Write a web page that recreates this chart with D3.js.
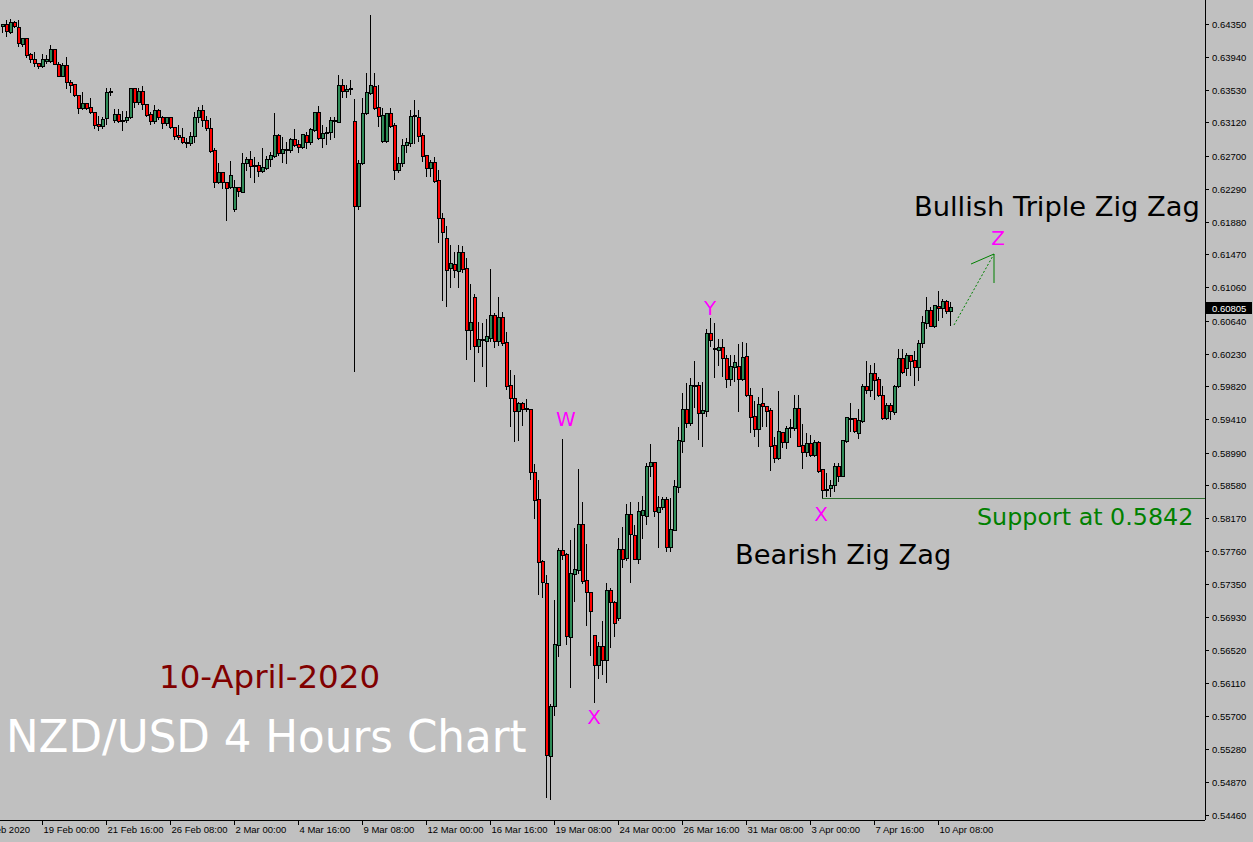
<!DOCTYPE html>
<html><head><meta charset="utf-8">
<script src="https://cdn.jsdelivr.net/npm/d3@7"></script>
<style>html,body{margin:0;padding:0;background:#c0c0c0;overflow:hidden}</style>
</head><body>
<svg id="c" width="1253" height="842"></svg>
<script>
// [open, high, low, close], 4-hour NZD/USD bars
const candles = [
[.64313,.6435,.64238,.64338],[.64338,.644,.64188,.6425],[.64238,.64413,.64225,.64375],[.64363,.64388,.643,.64313],
[.643,.644,.64063,.641],[.64088,.64175,.64063,.64163],[.64163,.64175,.63925,.6395],[.63963,.63988,.63863,.639],
[.639,.64,.63813,.6385],[.6385,.63863,.63788,.63813],[.63813,.63975,.638,.639],[.63875,.63963,.6385,.639],
[.63875,.64088,.63863,.64025],[.64025,.64025,.63838,.63838],[.63838,.63875,.63688,.63688],[.63688,.63863,.63688,.63825],
[.63825,.63938,.63538,.63613],[.63613,.6365,.63488,.63575],[.63588,.636,.63438,.6345],[.6345,.63463,.63225,.63288],
[.63288,.635,.63275,.6335],[.6335,.63363,.63275,.63288],[.633,.63425,.63225,.63238],[.63238,.6325,.63038,.63075],
[.63088,.632,.63013,.63063],[.63063,.63188,.63038,.6315],[.63163,.6355,.63088,.63488],[.635,.6355,.6345,.63488],
[.63138,.63288,.63113,.63213],[.63213,.63288,.63113,.63125],[.63138,.63263,.63013,.63125],[.63138,.63263,.63113,.63175],
[.63175,.6355,.63163,.63538],[.63538,.63538,.633,.63363],[.63363,.6355,.63338,.635],[.635,.63575,.63275,.63338],
[.63338,.63338,.63188,.632],[.63213,.6325,.63088,.63125],[.63125,.63338,.631,.63263],[.63263,.63288,.6315,.63175],
[.63175,.632,.63038,.631],[.631,.63188,.63075,.63175],[.63175,.63188,.63038,.6305],[.6305,.63063,.629,.62938],
[.6295,.63088,.629,.62925],[.62925,.6305,.6285,.62863],[.62863,.62925,.628,.6285],[.6285,.63,.62825,.62938],
[.62938,.6325,.62863,.63175],[.63175,.63313,.63113,.63263],[.63263,.63338,.63063,.63138],[.63138,.632,.63013,.63038],
[.63038,.63175,.62738,.6275],[.62763,.628,.623,.62363],[.62363,.62613,.6235,.62488],[.62488,.62488,.62288,.62363],
[.62363,.62363,.61888,.62288],[.623,.62638,.62288,.6245],[.62025,.624,.62,.623],[.623,.623,.62188,.6225],
[.62238,.62738,.62238,.626],[.626,.62688,.62513,.6265],[.6265,.62763,.62425,.62563],[.62575,.62688,.62363,.62575],
[.62575,.62625,.62438,.625],[.625,.628,.62488,.6255],[.62538,.627,.62525,.6265],[.6265,.6275,.62563,.627],
[.62688,.63238,.62675,.6295],[.6295,.62975,.627,.62725],[.62725,.62938,.62613,.62775],[.62775,.62875,.626,.62763],
[.62763,.62925,.62738,.629],[.629,.63038,.62813,.62825],[.62838,.629,.62738,.628],[.628,.62975,.62788,.62963],
[.6295,.63,.62788,.62863],[.62863,.6305,.62838,.63025],[.63013,.63238,.63,.63238],[.63238,.63325,.629,.62913],
[.62913,.63088,.628,.62975],[.62975,.63063,.62838,.62988],[.62988,.63188,.629,.63138],[.63125,.63188,.62925,.63138],
[.63113,.63713,.63113,.63575],[.63575,.63663,.63425,.635],[.635,.63588,.63425,.63525],[.63525,.6365,.63463,.63538],
[.63125,.63413,.6,.62063],[.62063,.6265,.62025,.626],[.626,.63425,.62588,.63225],[.63225,.63738,.63213,.63488],
[.63475,.64463,.63463,.63575],[.63563,.63738,.63275,.63288],[.633,.63588,.63063,.63188],[.62875,.633,.62863,.632],
[.62875,.63225,.62863,.63225],[.63225,.633,.6305,.63063],[.63075,.63113,.624,.62513],[.62513,.62688,.62488,.626],
[.626,.62913,.62563,.62825],[.62825,.62925,.62738,.62863],[.6285,.63275,.62813,.63188],[.63188,.634,.6285,.632],
[.63175,.63275,.62875,.62938],[.6295,.62988,.62625,.62688],[.627,.62713,.62438,.62538],[.62538,.6265,.62438,.62613],
[.62613,.62688,.62363,.62375],[.62388,.62525,.61613,.61913],[.61913,.61988,.60888,.61738],[.61663,.61825,.60813,.61263],
[.61288,.61588,.6105,.6135],[.61338,.615,.61175,.61263],[.6125,.61588,.6105,.61488],[.61488,.61575,.61238,.61275],
[.61288,.61425,.6015,.60513],[.60513,.611,.60275,.60613],[.60925,.60975,.59875,.60313],[.60313,.60625,.60238,.604],
[.604,.60613,.60063,.60388],[.60375,.60663,.59813,.60438],[.60413,.61288,.60375,.607],[.607,.60738,.603,.60375],
[.60375,.60938,.60325,.60675],[.60675,.6075,.60325,.6035],[.60363,.605,.59775,.59813],[.59825,.60025,.59313,.59663],
[.59663,.59963,.59125,.595],[.595,.59625,.59138,.596],[.596,.59625,.59325,.59525],[.59538,.59663,.595,.59525],
[.59525,.59538,.5865,.58738],[.58738,.5885,.58163,.58388],[.584,.5865,.57213,.57613],[.57625,.5765,.57175,.57363],
[.5735,.57463,.54675,.552],[.55188,.5585,.5465,.55813],[.55813,.5715,.557,.56588],[.56575,.578,.56438,.57763],
[.57763,.59163,.5765,.577],[.57713,.57738,.56588,.56688],[.56675,.579,.5605,.57475],[.57463,.5805,.57125,.57525],
[.57513,.58788,.57475,.58088],[.58088,.58375,.5735,.57375],[.57388,.5785,.56825,.57238],[.57238,.57238,.5645,.57],
[.567,.56713,.55863,.56325],[.56325,.56625,.56163,.56563],[.56563,.56888,.56213,.56388],[.56388,.57363,.56113,.57263],
[.57263,.573,.5655,.57113],[.57113,.57138,.56688,.5685],[.56913,.57925,.56888,.57775],[.57775,.58063,.5755,.5765],
[.57663,.5835,.57638,.58213],[.58213,.58375,.57363,.57963],[.5795,.58088,.5765,.5765],[.5765,.58375,.576,.5825],
[.582,.5845,.57913,.58263],[.58188,.58863,.58088,.58813],[.58813,.591,.58688,.58863],[.58863,.58863,.58188,.5825],
[.58238,.5845,.578,.583],[.583,.58438,.58275,.584],[.584,.58438,.5775,.578],[.578,.58425,.5775,.58025],
[.58013,.5865,.58013,.58563],[.5855,.59313,.58488,.59138],[.59125,.59738,.58988,.59525],[.59525,.59863,.593,.5935],
[.5935,.59925,.59325,.59825],[.59813,.60138,.5955,.59825],[.59825,.59875,.5915,.59475],[.59475,.59875,.59063,.59513],
[.595,.60538,.59438,.60475],[.60475,.60675,.60313,.60388],[.60288,.60613,.59925,.60275],[.60263,.60413,.60075,.603],
[.603,.60413,.59938,.60163],[.60163,.60213,.598,.599],[.599,.60213,.59825,.60063],[.6005,.60213,.59875,.60113],
[.60063,.6035,.595,.599],[.599,.60375,.59888,.60175],[.60188,.60363,.59688,.597],[.597,.598,.59238,.59425],
[.59438,.59638,.59188,.59275],[.59275,.59688,.59063,.59588],[.596,.598,.59313,.59563],[.59563,.59575,.59313,.595],
[.59513,.5955,.58763,.59063],[.59075,.59188,.58863,.58913],[.58913,.59763,.589,.5925],[.59238,.5925,.5905,.59113],
[.59113,.59325,.59038,.59288],[.59288,.59413,.59175,.593],[.59288,.59713,.59263,.59538],[.59538,.59713,.59063,.59063],
[.59075,.5935,.58788,.58988],[.58988,.59238,.58938,.591],[.591,.59213,.58938,.5895],[.5895,.5915,.58938,.59113],
[.59113,.59138,.58738,.5875],[.58775,.58775,.58413,.58513],[.58513,.58738,.58438,.58525],[.58538,.5865,.58438,.58575],
[.58575,.58863,.585,.58813],[.58813,.58863,.58625,.58688],[.58688,.5915,.58688,.59138],[.59125,.59438,.59113,.59425],
[.594,.59613,.5925,.59413],[.59413,.59425,.59238,.5925],[.59225,.59538,.59163,.59388],[.59375,.5985,.59363,.59813],
[.59813,.60138,.59725,.59763],[.59763,.60088,.59688,.59975],[.59975,.60113,.5965,.59888],[.599,.59938,.59688,.597],
[.597,.59825,.594,.59413],[.59413,.59613,.594,.59575],[.59575,.59613,.594,.595],[.59488,.59838,.59463,.59813],
[.59813,.60288,.598,.60163],[.60163,.60288,.59975,.59988],[.60038,.60238,.5995,.602],[.602,.60213,.5995,.60125],
[.60138,.60263,.59825,.6005],[.6005,.604,.59888,.6035],[.6035,.607,.603,.60613],[.606,.60938,.60538,.60763],
[.60763,.60813,.60563,.60563],[.60563,.60838,.6055,.60825],[.60813,.61013,.60638,.60788],[.60788,.60913,.60675,.60875],
[.60875,.609,.60725,.6075],[.6075,.60875,.60575,.60805]
];
const priceTicks = [0.64350,0.63940,0.63530,0.63120,0.62700,0.62290,0.61880,0.61470,0.61060,0.60640,0.60230,0.59820,
  0.59410,0.58990,0.58580,0.58170,0.57760,0.57350,0.56930,0.56520,0.56110,0.55700,0.55280,0.54870,0.54460];
const dateLabels = ["19 Feb 00:00","21 Feb 16:00","26 Feb 08:00","2 Mar 00:00","4 Mar 16:00","9 Mar 08:00","12 Mar 00:00",
  "16 Mar 16:00","19 Mar 08:00","24 Mar 00:00","26 Mar 16:00","31 Mar 08:00","3 Apr 00:00","7 Apr 16:00","10 Apr 08:00"];
const dateIndex = [10,26,42,58,74,90,106,122,138,154,170,186,202,218,234];
const firstLabel = "17 Feb 2020";
const lastPrice = 0.60805;
const supportLevel = 0.5842;
const supportStart = 205;

const svg = d3.select("#c");
const W = 1205, H = 820;
const x = d3.scaleLinear().domain([0, candles.length - 1]).range([2.33, 2.33 + 4 * (candles.length - 1)]);
const y = d3.scaleLinear().domain([0.5446, 0.6435]).range([815, 24]);
const font = "'DejaVu Sans', Verdana, sans-serif";
const axFont = "'Liberation Sans', Arial, sans-serif";

svg.append("rect").attr("width",1253).attr("height",842).attr("fill","#c0c0c0");

// candles
const g = svg.append("g").attr("shape-rendering","crispEdges");
candles.forEach((d,i)=>{
  const [o,h,l,c] = d; const cx = Math.round(x(i)) + 0.5;
  g.append("line").attr("x1",cx).attr("x2",cx).attr("y1",y(h)).attr("y2",y(l)).attr("stroke","#000").attr("stroke-width",1);
  const top = y(Math.max(o,c)), bot = y(Math.min(o,c));
  g.append("rect").attr("x",cx-1.5).attr("y",top).attr("width",3).attr("height",Math.max(bot-top,1))
   .attr("fill", c>=o ? "#2e8b57" : "#ff0000").attr("stroke","#000").attr("stroke-width",1);
});

// support line
const sy = Math.round(y(supportLevel))+0.5;
svg.append("line").attr("x1",x(supportStart)).attr("x2",W).attr("y1",sy).attr("y2",sy)
  .attr("stroke","#2f6f2f").attr("stroke-width",1);

// axes frame
svg.append("line").attr("x1",W+0.5).attr("x2",W+0.5).attr("y1",0).attr("y2",H).attr("stroke","#000");
svg.append("line").attr("x1",0).attr("x2",W).attr("y1",H+0.5).attr("y2",H+0.5).attr("stroke","#000");

priceTicks.forEach(p=>{
  const yy = Math.round(y(p))+0.5;
  svg.append("line").attr("x1",W).attr("x2",W+4).attr("y1",yy).attr("y2",yy).attr("stroke","#000");
  svg.append("text").attr("x",W+7).attr("y",yy+3.5).attr("font-family",axFont).attr("font-size",9.5)
    .attr("fill","#000").text(p.toFixed(5));
});
// current price box
const ly = Math.round(y(lastPrice));
svg.append("rect").attr("x",W+1).attr("y",ly-6).attr("width",46).attr("height",12).attr("fill","#000");
svg.append("text").attr("x",W+7).attr("y",ly+3.5).attr("font-family",axFont).attr("font-size",9.5)
  .attr("fill","#fff").text(lastPrice.toFixed(5));

// date axis
dateIndex.forEach((idx,k)=>{
  const xx = Math.round(x(idx))+0.5;
  svg.append("line").attr("x1",xx).attr("x2",xx).attr("y1",H).attr("y2",H+5).attr("stroke","#000");
  svg.append("text").attr("x",xx+1).attr("y",H+13).attr("font-family",axFont).attr("font-size",9.5)
    .attr("fill","#000").text(dateLabels[k]);
});
svg.append("text").attr("x",30).attr("y",H+13).attr("text-anchor","end").attr("font-family",axFont)
  .attr("font-size",9.5).attr("fill","#000").text(firstLabel);

// annotations
function txt(t,xx,yy,size,color,anchor){
  svg.append("text").attr("x",xx).attr("y",yy).attr("font-family",font).attr("font-size",size).attr("fill",color)
    .attr("text-anchor",anchor||"start").text(t);
}
txt("Bullish Triple Zig Zag",914,216,27.3,"#000");
txt("Z",998,245,20,"#ff00ff","middle");
txt("Y",710,315,20,"#ff00ff","middle");
txt("W",566,426,20,"#ff00ff","middle");
txt("X",594,724,20,"#ff00ff","middle");
txt("X",821,521,20,"#ff00ff","middle");
txt("Support at 0.5842",977,525,23.8,"#008000");
txt("Bearish Zig Zag",735,564,27.3,"#000");
txt("10-April-2020",159,688,32.5,"#800000");
txt("NZD/USD 4 Hours Chart",6,752,43.6,"#ffffff");

// arrow
svg.append("line").attr("x1",954).attr("y1",325).attr("x2",994).attr("y2",254).attr("stroke","#008000").attr("stroke-dasharray","2,2");
svg.append("line").attr("x1",994).attr("y1",254).attr("x2",971).attr("y2",264).attr("stroke","#008000");
svg.append("line").attr("x1",994).attr("y1",254).attr("x2",994).attr("y2",283).attr("stroke","#008000");
</script>
</body></html>
